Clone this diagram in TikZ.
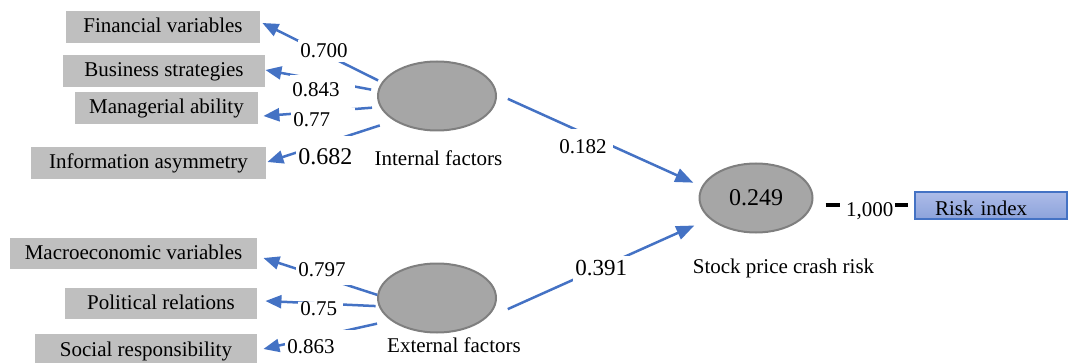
\documentclass[tikz,border=0pt]{standalone}
\usepackage{fontspec}
\setmainfont{Liberation Serif}
\usetikzlibrary{arrows.meta,calc,shapes.geometric}
\definecolor{lblue}{HTML}{4472C4}
\definecolor{boxgray}{HTML}{BFBFBF}
\definecolor{ellfill}{HTML}{A6A6A6}
\definecolor{ellline}{HTML}{7F7F7F}
\definecolor{risktop}{HTML}{ADBCE8}
\definecolor{riskbot}{HTML}{8CA2DB}
\begin{document}
\begin{tikzpicture}[x=0.5pt,y=-0.5pt,
  every node/.style={font=\fontsize{10.5}{12}\selectfont},
  varbox/.style={fill=boxgray, inner sep=0pt, text height=8pt, text depth=2pt, minimum height=16pt},
  latent/.style={ellipse, fill=ellfill, draw=ellline, line width=1pt, inner sep=0pt, minimum width=59pt, minimum height=34.5pt},
  loadarrow/.style={draw=lblue, line width=1.25pt, -{Triangle[length=8pt,width=6.5pt]}},
  patharrow/.style={draw=lblue, line width=1.25pt, -{Triangle[length=9pt,width=7pt]}},
  lbl/.style={fill=white, inner xsep=1pt, inner ysep=0pt, align=left, anchor=base west},
  captext/.style={anchor=base, inner sep=0pt}
]
\useasboundingbox (0,0) rectangle (1069,363);

% indicator boxes
\node[varbox, minimum width=97pt]   (fin)   at (163,27)    {Financial variables};
\node[varbox, minimum width=101pt]  (bus)   at (164,71)    {Business strategies};
\node[varbox, minimum width=91.5pt] (man)   at (166.5,108) {Managerial ability};
\node[varbox, minimum width=117.5pt](info)  at (148.5,163) {Information asymmetry};
\node[varbox, minimum width=123.5pt, minimum height=15.5pt] (macro) at (133.5,253.5) {Macroeconomic variables};
\node[varbox, minimum width=96pt, minimum height=15.5pt]    (pol)   at (161,303.5) {Political relations};
\node[varbox, minimum width=111pt]  (soc)   at (146,350)   {Social responsibility};

% latent variables
\node[latent] (int) at (437,96) {};
\node[latent] (ext) at (437,298) {};
\node[latent, minimum width=56.5pt, font=\fontsize{12}{14}\selectfont] (crash) at (756,198) {0.249};

% captions
\node[captext] (intcap)   at (438.5,166) {Internal factors};
\node[captext] (extcap)   at (454,352)   {External factors};
\node[captext] (crashcap) at (783.5,273) {Stock price crash risk};

% risk index
\node[draw=lblue, line width=0.6pt, top color=risktop, bottom color=riskbot,
      minimum width=76pt, minimum height=13.5pt, inner sep=0pt, text width=76pt,
      align=left, text height=10pt, text depth=0.5pt] (risk) at (991,205.5) {\hspace*{10pt}Risk index};

% loadings of internal factors
\draw[loadarrow, shorten <=2pt]   (int.166.6) -- ([xshift=1pt,yshift=2pt]fin.east);
\draw[loadarrow, shorten <=3.3pt] (int.175.4) -- ([yshift=0.5pt]bus.east);
\draw[loadarrow, shorten <=4pt]   (int.191.3) -- ([xshift=2.5pt,yshift=-4pt]man.east);
\draw[loadarrow, shorten <=7.5pt] (int.210.7) -- ([xshift=0.5pt,yshift=0.5pt]info.east);

% loadings of external factors
\draw[loadarrow]                  (ext.177)   -- ([xshift=3pt,yshift=-2.25pt]macro.east);
\draw[loadarrow, shorten <=1.5pt] (ext.188.7) -- ([xshift=4pt,yshift=1.25pt]pol.east);
\draw[loadarrow, shorten <=7pt]   (ext.206.6) -- ([xshift=3pt,yshift=0.5pt]soc.east);

% structural paths
\draw[patharrow, shorten <=6pt, shorten >=4.6pt]     (int.2.9)   -- (crash.168.5);
\draw[patharrow, shorten <=12.5pt, shorten >=8.25pt] (ext.336.3) -- (crash.204.9);

% crash -> risk index
\draw[line width=2pt, shorten <=6pt, shorten >=3pt] (crash.east |- risk.west) -- (risk.west);

% labels
\node[lbl, text width=29pt, text height=9pt, text depth=2pt]      (l1) at (298,58)  {0.700};
\node[lbl, text width=30.5pt, text height=11pt, text depth=3pt]   (l2) at (290,97)  {0.843};
\node[lbl, text width=30pt, text height=9.5pt, text depth=2pt]    (l3) at (291,127) {0.77};
\node[lbl, font=\fontsize{12}{14}\selectfont, text width=35pt, text height=14.5pt, text depth=4pt] (l4) at (296,165) {0.682};
\node[lbl, text width=26pt, text height=12.5pt, text depth=5pt]   (l5) at (557,154) {0.182};
\node[lbl, font=\fontsize{11.5}{13}\selectfont, text width=31.5pt, text height=9.5pt, text depth=5pt] (l6) at (573,275) {0.391};
\node[lbl, text width=32pt, text height=9pt, text depth=4.5pt]    (l7) at (296,276) {0.797};
\node[lbl, text width=20.5pt, text height=6.5pt, text depth=2pt]  (l8) at (298,315) {0.75};
\node[lbl, text width=35.5pt, text height=11.5pt, text depth=2.5pt] (l9) at (285,353) {0.863};
\node[lbl, align=right, text width=25.5pt, text height=8pt, text depth=2pt] (l10) at (840,217) {1,000};
\end{tikzpicture}
\end{document}
